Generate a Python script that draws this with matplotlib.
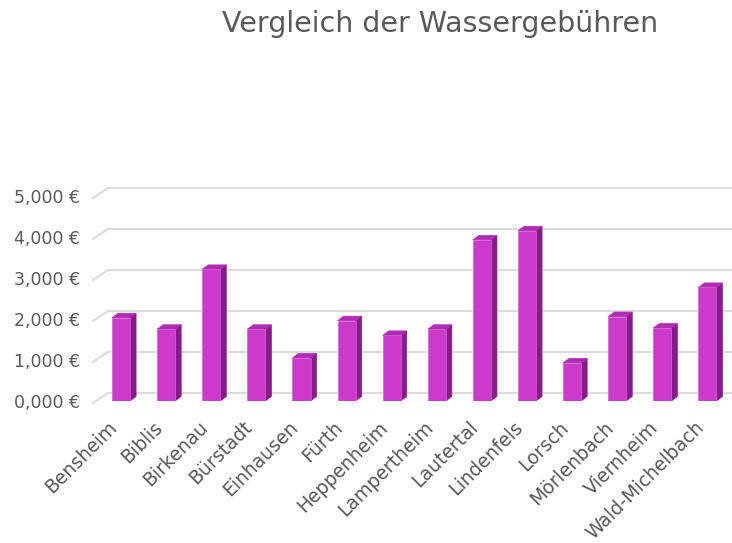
import matplotlib
matplotlib.use("Agg")
import matplotlib.pyplot as plt
from matplotlib.patches import Polygon
from matplotlib.transforms import Affine2D
import numpy as np

plt.rcParams['font.family'] = ['DejaVu Sans']

# ---- data ----
towns = ["Bensheim", "Biblis", "Birkenau", "Bürstadt", "Einhausen", "Fürth",
         "Heppenheim", "Lampertheim", "Lautertal", "Lindenfels", "Lorsch",
         "Mörlenbach", "Viernheim", "Wald-Michelbach"]
fees = [2030, 1750, 3210, 1750, 1050, 1960, 1600, 1750, 3930, 4150, 930,
        2060, 1780, 2770]
yticks = [0, 1000, 2000, 3000, 4000, 5000]
ytick_labels = ["0,000 €", "1,000 €", "2,000 €", "3,000 €", "4,000 €", "5,000 €"]
title = "Vergleich der Wassergebühren"

# ---- style ----
W, H, DPI = 732, 543, 100
TXT = "#595959"
GRID = "#DCDCDC"
FRONT = "#CC3ACC"
SIDE = "#861C88"
TOP = "#B02CB2"

fig = plt.figure(figsize=(W / DPI, H / DPI), dpi=DPI)
ax = fig.add_axes([98.5 / W, (H - 401) / H, (730 - 98.5) / W, 205 / H])
n = len(towns)
ax.set_xlim(-0.5, n - 0.5)
ax.set_ylim(0, 5000)
for s in ax.spines.values():
    s.set_visible(False)
ax.set_facecolor("none")

# back-wall gridlines (pixel offsets from front plane)
back = ax.transData + Affine2D().translate(9.5, 8)
frontc = ax.transData + Affine2D().translate(-5.5, -2)
for v in yticks:
    ax.plot([-0.5, n + 1], [v, v], color=GRID, lw=1.5, transform=back,
            clip_on=False, zorder=0)
    p0 = frontc.transform((-0.5, v))
    p1 = back.transform((-0.5, v))
    ax.plot([p0[0], p1[0]], [p0[1], p1[1]], color=GRID, lw=1.5,
            transform=None, clip_on=False, zorder=0)

# bars with pseudo 3D depth
x = np.arange(n)
bw = 0.4
fig.canvas.draw()
px_per_x = ax.transData.transform((1, 0))[0] - ax.transData.transform((0, 0))[0]
px_per_y = ax.transData.transform((0, 1000))[1] - ax.transData.transform((0, 0))[1]
ddx = 6.0 / px_per_x
ddy = 4.5 / px_per_y * 1000

ax.bar(x, fees, width=bw, color=FRONT, edgecolor="#D860D8", linewidth=0.5, zorder=3)
for xi, v in zip(x, fees):
    xl, xr = xi - bw / 2, xi + bw / 2
    side = Polygon([(xr, 0), (xr + ddx, ddy), (xr + ddx, v + ddy), (xr, v)],
                   closed=True, facecolor=SIDE, edgecolor=SIDE, lw=0.5,
                   clip_on=False, zorder=2)
    top = Polygon([(xl, v), (xr, v), (xr + ddx, v + ddy), (xl + ddx, v + ddy)],
                  closed=True, facecolor=TOP, edgecolor=TOP, lw=0.5,
                  clip_on=False, zorder=2)
    ax.add_patch(side)
    ax.add_patch(top)

ax.set_yticks(yticks)
ax.set_yticklabels(ytick_labels, fontsize=12.5, color=TXT)
ax.set_xticks(x)
ax.set_xticklabels(towns, rotation=45, ha="right", va="top", fontsize=13.5,
                   color=TXT)
ax.tick_params(axis="y", length=0, pad=13.3)
ax.tick_params(axis="x", length=0, pad=12)

fig.text(440 / W, 1 - 32 / H, title, ha="center", va="baseline",
         fontsize=20.5, color=TXT)

fig.savefig("out.png", dpi=DPI, facecolor="white")
